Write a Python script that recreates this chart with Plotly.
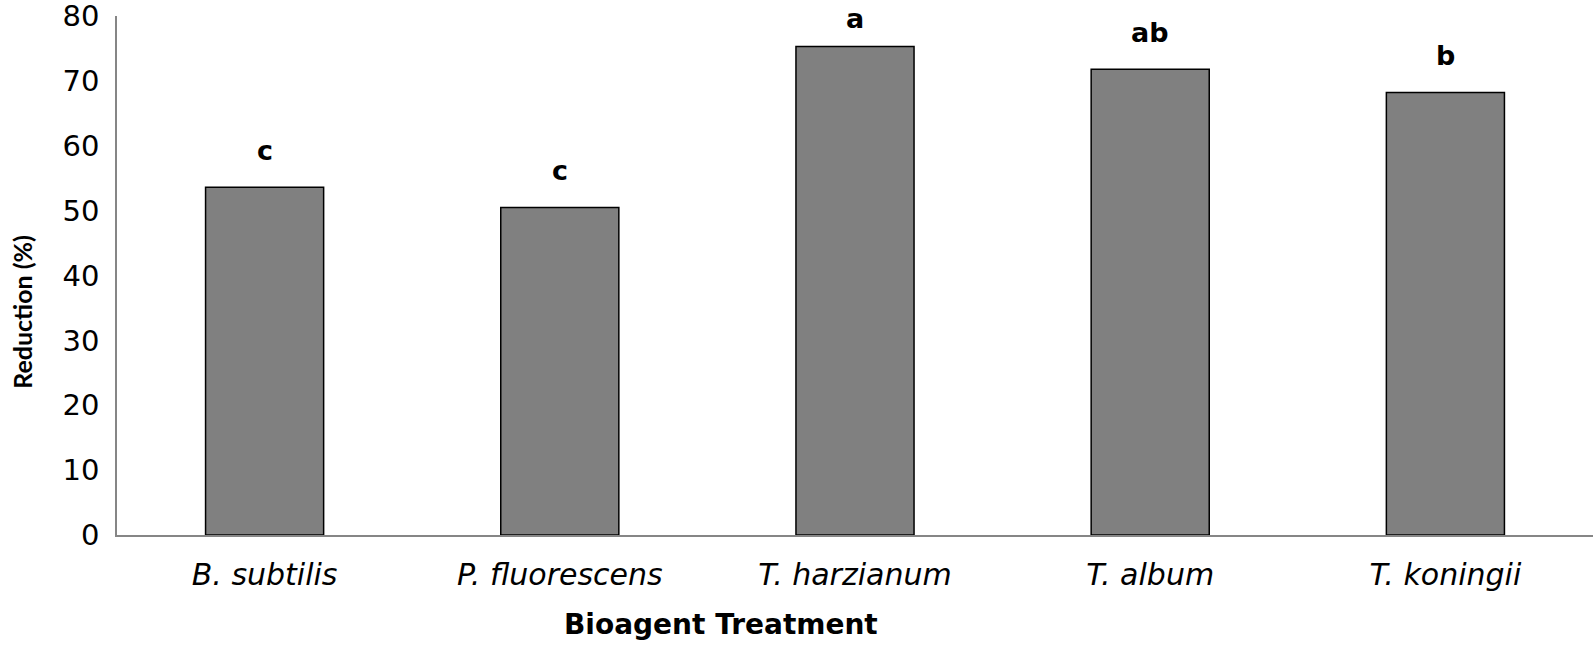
import plotly.graph_objects as go

# Data
treatments = ['B. subtilis', 'P. fluorescens', 'T. harzianum', 'T. album', 'T. koningii']
reduction = [53.6, 50.5, 75.3, 71.8, 68.2]
letters = ['c', 'c', 'a', 'ab', 'b']
y_ticks = [0, 10, 20, 30, 40, 50, 60, 70, 80]

# how far each letter sits above its bar (px); the tallest one is squeezed under the top
letter_shift = [37, 37, 28, 37, 37]

tick_text = ['<i>%s</i>' % t for t in treatments]

fig = go.Figure()

fig.add_trace(go.Bar(
    x=treatments,
    y=reduction,
    marker=dict(color='#808080', line=dict(color='#000000', width=1.5)),
    hoverinfo='x+y',
))

# significance letters above each bar
for t, v, lab, sh in zip(treatments, reduction, letters, letter_shift):
    fig.add_annotation(
        x=t, y=v, text='<b>%s</b>' % lab,
        showarrow=False, yanchor='middle', yshift=sh,
        font=dict(family='DejaVu Sans', size=27, color='#000000'),
    )

# axis titles as annotations (they are not centred on the plot in the original)
fig.add_annotation(
    x=0.409, y=0, xref='paper', yref='paper', yshift=-89,
    xanchor='center', yanchor='middle', showarrow=False,
    text='<b>Bioagent Treatment</b>',
    font=dict(family='DejaVu Sans', size=28, color='#000000'),
)
fig.add_annotation(
    x=0, y=0.43, xref='paper', yref='paper', xshift=-95,
    xanchor='center', yanchor='middle', showarrow=False, textangle=-90,
    text='<b>Reduction (%)</b>',
    font=dict(family='Lato', size=25, color='#000000'),
)

fig.update_layout(
    width=1594, height=646,
    paper_bgcolor='white', plot_bgcolor='white',
    margin=dict(l=117, r=1, t=16, b=111),
    bargap=0.6,
    showlegend=False,
    font=dict(family='DejaVu Sans', color='#000000'),
)

fig.update_xaxes(
    tickvals=treatments, ticktext=tick_text,
    tickfont=dict(family='DejaVu Sans', size=30, color='#000000'),
    showline=True, linecolor='#868686', linewidth=1.5,
    showgrid=False, ticks='outside', ticklen=12, tickcolor='rgba(0,0,0,0)',
    automargin=False,
)

fig.update_yaxes(
    range=[0, 80], tickvals=y_ticks,
    tickfont=dict(family='DejaVu Sans', size=29, color='#000000'),
    showline=True, linecolor='#868686', linewidth=1.5,
    showgrid=False, zeroline=False,
    ticks='outside', ticklen=10, tickcolor='rgba(0,0,0,0)',
    ticklabeloverflow='allow', automargin=False,
)

fig.write_html("out.html", config={'displayModeBar': False},
               post_script="document.body.style.margin='0';")
